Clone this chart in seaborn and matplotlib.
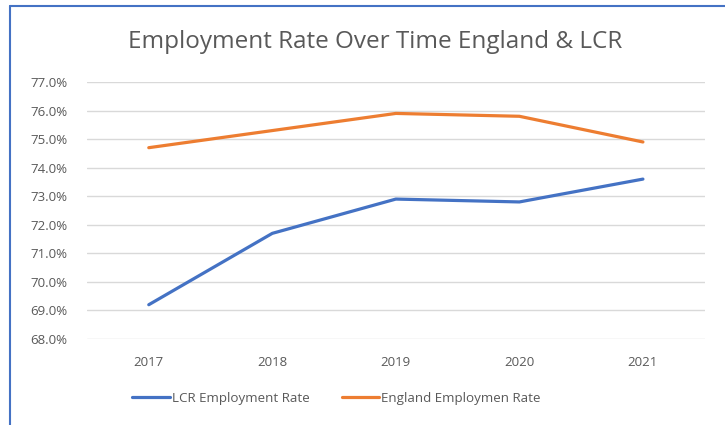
import matplotlib
matplotlib.use("Agg")
import pandas as pd
import seaborn as sns
import matplotlib.pyplot as plt
from matplotlib.lines import Line2D
from matplotlib.ticker import FuncFormatter

# data
years = [2017, 2018, 2019, 2020, 2021]
lcr_rate = [69.2, 71.7, 72.9, 72.8, 73.6]
england_rate = [74.7, 75.3, 75.9, 75.8, 74.9]
series_names = ["LCR Employment Rate", "England Employmen Rate"]
colors = ["#4472C4", "#ED7D31"]

df = pd.DataFrame({"year": years, series_names[0]: lcr_rate, series_names[1]: england_rate})
long_df = df.melt(id_vars="year", var_name="series", value_name="rate")

sns.set_theme(style="white")
plt.rcParams["font.family"] = ["Open Sans", "DejaVu Sans"]
text_color = "#595959"

fig = plt.figure(figsize=(7.25, 4.25), dpi=100)
ax = fig.add_axes([0.12, 0.2024, 0.852, 0.6046])

sns.lineplot(data=long_df, x="year", y="rate", hue="series", hue_order=series_names,
             palette=colors, linewidth=2.3, ax=ax, legend=False)

ax.set_xlim(2016.5, 2021.5)
ax.set_ylim(68, 77)
ax.set_xticks(years)
ax.set_yticks(range(68, 78))
ax.yaxis.set_major_formatter(FuncFormatter(lambda v, p: f"{v:.1f}%"))
ax.grid(axis="y", color="#D9D9D9", linewidth=1)
ax.set_axisbelow(True)
for s in ax.spines.values():
    s.set_visible(False)
ax.tick_params(axis="both", length=0, labelsize=9.5, colors=text_color)
ax.tick_params(axis="y", pad=14)
ax.tick_params(axis="x", pad=12)
ax.set_xlabel("")
ax.set_ylabel("")

fig.text(0.517, 0.902, "Employment Rate Over Time England & LCR", ha="center", va="center",
         fontsize=17.5, color=text_color)

handles = [Line2D([], [], color=c, linewidth=2.3) for c in colors]
fig.legend(handles, series_names, loc="center", bbox_to_anchor=(0.464, 0.062), ncol=2,
           frameon=False, handlelength=2.8, handletextpad=0.15, columnspacing=2.4,
           fontsize=9.6, labelcolor=text_color)

# blue selection frame on left and top edges
fig.add_artist(Line2D([0.0138, 0.0138], [0.0, 0.987], color="#4472C4", linewidth=1.5,
                      transform=fig.transFigure))
fig.add_artist(Line2D([0.0138, 1.0], [0.987, 0.987], color="#4472C4", linewidth=1.5,
                      transform=fig.transFigure))

fig.savefig("out.png", dpi=100)
